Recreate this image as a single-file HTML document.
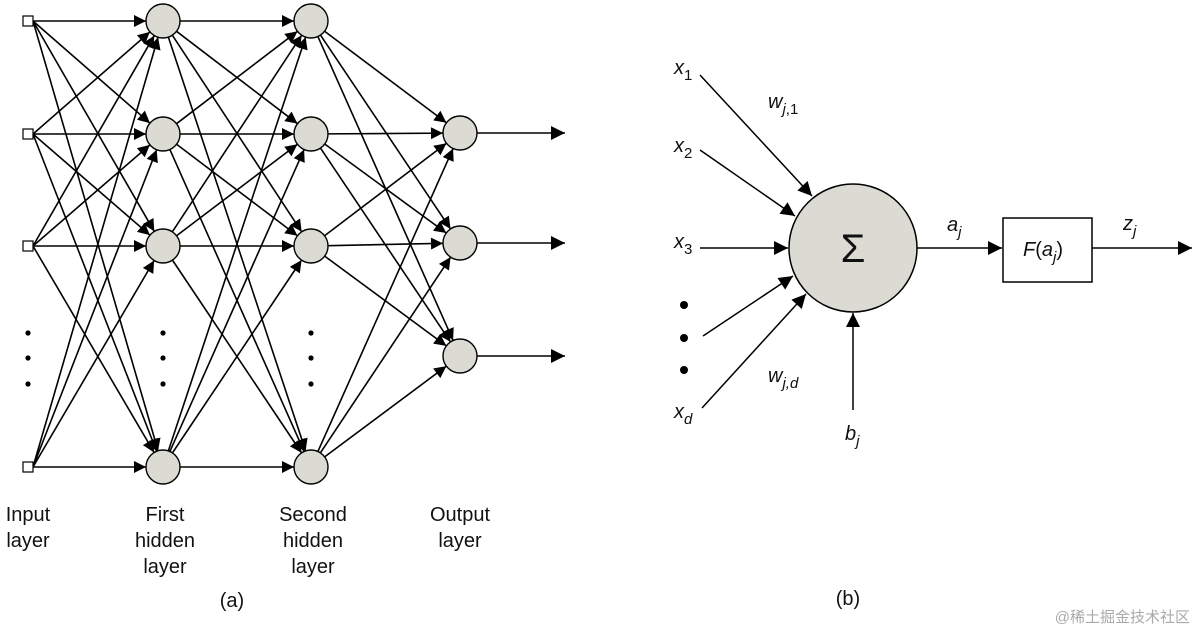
<!DOCTYPE html>
<html><head><meta charset="utf-8"><style>
html,body{margin:0;padding:0;background:#fff;width:1200px;height:632px;overflow:hidden}
svg{display:block}
text{font-family:"Liberation Sans","DejaVu Sans",sans-serif;fill:#111}
</style></head><body>
<svg id="s" width="1200" height="632" viewBox="0 0 1200 632" xmlns="http://www.w3.org/2000/svg">
<defs><marker id="a" viewBox="0 0 10 10" refX="10" refY="5" markerWidth="13" markerHeight="12" markerUnits="userSpaceOnUse" orient="auto"><path d="M0,0 L10,5 L0,10 z" fill="#000"/></marker>
<marker id="b" viewBox="0 0 10 10" refX="10" refY="5" markerWidth="15" markerHeight="14" markerUnits="userSpaceOnUse" orient="auto"><path d="M0,0 L10,5 L0,10 z" fill="#000"/></marker></defs>
<g id="net" stroke="#000" stroke-width="1.6" fill="none"></g>
<g id="nodes"></g>
<g font-size="20" text-anchor="middle">
<text x="28" y="521">Input</text><text x="28" y="547">layer</text>
<text x="165" y="521">First</text><text x="165" y="547">hidden</text><text x="165" y="573">layer</text>
<text x="313" y="521">Second</text><text x="313" y="547">hidden</text><text x="313" y="573">layer</text>
<text x="460" y="521">Output</text><text x="460" y="547">layer</text>
<text x="232" y="607">(a)</text><text x="848" y="605">(b)</text>
</g>
<g stroke="#000" stroke-width="1.5" fill="none">
<line x1="700" y1="75" x2="812" y2="196" marker-end="url(#b)"/>
<line x1="700" y1="150" x2="795" y2="216" marker-end="url(#b)"/>
<line x1="700" y1="248" x2="788" y2="248" marker-end="url(#b)"/>
<line x1="703" y1="336" x2="793" y2="276" marker-end="url(#b)"/>
<line x1="702" y1="408" x2="806" y2="294" marker-end="url(#b)"/>
<line x1="853" y1="410" x2="853" y2="313" marker-end="url(#b)"/>
<line x1="917" y1="248" x2="1002" y2="248" marker-end="url(#b)"/>
<line x1="1092" y1="248" x2="1192" y2="248" marker-end="url(#b)"/>
</g>
<circle cx="853" cy="248" r="64" fill="#dcdbd3" stroke="#000" stroke-width="1.5"/>
<rect x="1003" y="218" width="89" height="64" fill="#fff" stroke="#000" stroke-width="1.5"/>
<text x="853" y="262" font-size="40" text-anchor="middle" font-family="Liberation Serif,serif">Σ</text>
<g font-size="20" font-style="italic">
<text x="674" y="74">x<tspan font-size="15" dy="6" font-style="normal">1</tspan></text>
<text x="674" y="152">x<tspan font-size="15" dy="6" font-style="normal">2</tspan></text>
<text x="674" y="248">x<tspan font-size="15" dy="6" font-style="normal">3</tspan></text>
<text x="674" y="418">x<tspan font-size="15" dy="6">d</tspan></text>
<text x="768" y="108">w<tspan font-size="15" dy="6">j</tspan><tspan font-size="15" font-style="normal">,1</tspan></text>
<text x="768" y="382">w<tspan font-size="15" dy="6">j</tspan><tspan font-size="15">,d</tspan></text>
<text x="845" y="440">b<tspan font-size="15" dy="6">j</tspan></text>
<text x="947" y="231">a<tspan font-size="15" dy="6">j</tspan></text>
<text x="1123" y="230">z<tspan font-size="15" dy="6">j</tspan></text>
<text x="1023" y="256">F<tspan font-style="normal">(</tspan>a<tspan font-size="15" dy="6">j</tspan><tspan dy="-6" font-style="normal">)</tspan></text>
</g>
<g fill="#000"><circle cx="684" cy="305" r="4"/><circle cx="684" cy="338" r="4"/><circle cx="684" cy="370" r="4"/></g>
<text x="1190" y="622" font-size="15" text-anchor="end" fill="#aaa" style="fill:#aaa;font-family:'Liberation Sans','Noto Sans CJK SC',sans-serif">@稀土掘金技术社区</text>
</svg>
<script>
var NS="http://www.w3.org/2000/svg";
function el(p,t,a){var e=document.createElementNS(NS,t);for(var k in a)e.setAttribute(k,a[k]);p.appendChild(e);return e;}
var net=document.getElementById('net'),nodes=document.getElementById('nodes');
var X=[28,163,311,460],R=17;
var L=[[21,134,246,467],[21,134,246,467],[21,134,246,467],[133,243,356]];
for(var l=0;l<3;l++){
 for(var i=0;i<L[l].length;i++)for(var j=0;j<L[l+1].length;j++){
  var x1=X[l],y1=L[l][i],x2=X[l+1],y2=L[l+1][j];
  var dx=x2-x1,dy=y2-y1,d=Math.hypot(dx,dy);
  var sr=l==0?0:R;
  el(net,'line',{x1:x1+dx/d*sr+(l==0?5:0),y1:y1+dy/d*sr,x2:x2-dx/d*R,y2:y2-dy/d*R,'marker-end':'url(#a)'});
 }
}
[133,243,356].forEach(function(y){el(net,'line',{x1:477,y1:y,x2:565,y2:y,'marker-end':'url(#b)'});});
[21,134,246,467].forEach(function(y){el(nodes,'rect',{x:23,y:y-5,width:10,height:10,fill:'#fff',stroke:'#000','stroke-width':1.2});});
for(var l=1;l<4;l++)L[l].forEach(function(y){el(nodes,'circle',{cx:X[l],cy:y,r:R,fill:'#dcdbd3',stroke:'#000','stroke-width':1.4});});
[28,163,311].forEach(function(x){[333,358,384].forEach(function(y){el(nodes,'circle',{cx:x,cy:y,r:2.6,fill:'#000'});});});
</script>
</body></html>
